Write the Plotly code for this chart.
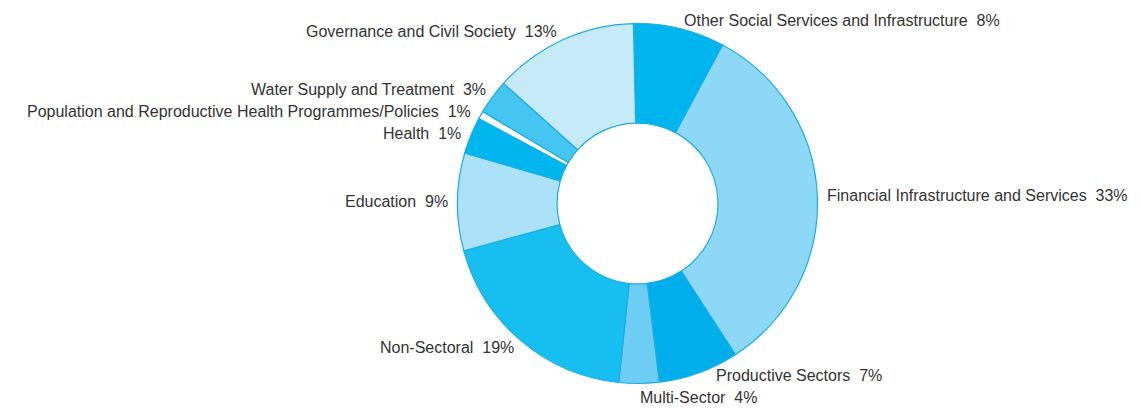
import math
import plotly.graph_objects as go

sectors = [
    "Other Social Services and Infrastructure",
    "Financial Infrastructure and Services",
    "Productive Sectors",
    "Multi-Sector",
    "Non-Sectoral",
    "Education",
    "Health",
    "Population and Reproductive Health Programmes/Policies",
    "Water Supply and Treatment",
    "Governance and Civil Society",
]
shares = [8.2, 33.0, 7.2, 3.6, 19.1, 8.75, 3.3, 0.7, 3.1, 13.0]
share_labels = ["8%", "33%", "7%", "4%", "19%", "9%", "1%", "1%", "3%", "13%"]
colors = ["#00b5ee", "#8ed8f7", "#00aeeb", "#6dcdf4", "#17bff0",
          "#abe1f9", "#00b6ef", "#ffffff", "#45c6f2", "#c7eaf9"]

# page body has an 8px margin, so the figure is 8px smaller than the window
W, H = 1133, 400
cx, cy, r = 629.5, 195.5, 180
ROT = -1.3
LABEL_R = 189
MIN_GAP = 22
TOP_LIMIT = 12
FONT = dict(family="Liberation Sans, Arial, sans-serif", size=16, color="#333333")

fig = go.Figure(go.Pie(
    labels=sectors,
    values=shares,
    textinfo="none",
    marker=dict(colors=colors, line=dict(color="#19ade6", width=1.2)),
    hole=0.447,
    sort=False,
    direction="clockwise",
    rotation=ROT,
    domain=dict(x=[(cx - r) / W, (cx + r) / W], y=[(H - (cy + r)) / H, (H - (cy - r)) / H]),
    showlegend=False,
    hoverinfo="label+percent",
))

# label placement derived from the slice mid-angles
total = sum(shares)
labels_pos = []
cum = 0.0
for i, v in enumerate(shares):
    mid = math.radians(ROT + (cum + v / 2) / total * 360)
    cum += v
    x = cx + LABEL_R * math.sin(mid)
    y = cy - LABEL_R * math.cos(mid)
    labels_pos.append(dict(i=i, side=1 if math.sin(mid) >= 0 else -1, x=x, y=y, y0=y))

for side in (1, -1):
    group = sorted([p for p in labels_pos if p["side"] == side], key=lambda p: p["y"])
    for _ in range(50):
        for a, b in zip(group, group[1:]):
            gap = b["y"] - a["y"]
            if gap < MIN_GAP:
                d = (MIN_GAP - gap) / 2
                a["y"] -= d
                b["y"] += d
    for p in group:
        if p["y"] < TOP_LIMIT:
            p["y"] = TOP_LIMIT
        if abs(p["y"] - p["y0"]) > 0.01:
            dy = p["y"] - cy
            if abs(dy) < LABEL_R:
                p["x"] = cx + side * math.sqrt(LABEL_R ** 2 - dy ** 2)

annotations = []
for p in labels_pos:
    i = p["i"]
    annotations.append(dict(
        x=p["x"] / W, y=1 - p["y"] / H, xref="paper", yref="paper",
        text=sectors[i] + "\u00a0\u00a0" + share_labels[i],
        showarrow=False,
        xanchor="left" if p["side"] > 0 else "right",
        yanchor="middle",
        borderpad=0,
        font=FONT,
    ))

fig.update_layout(
    width=W, height=H,
    margin=dict(l=0, r=0, t=0, b=0),
    paper_bgcolor="white",
    plot_bgcolor="white",
    annotations=annotations,
)

fig.write_html("out.html")
